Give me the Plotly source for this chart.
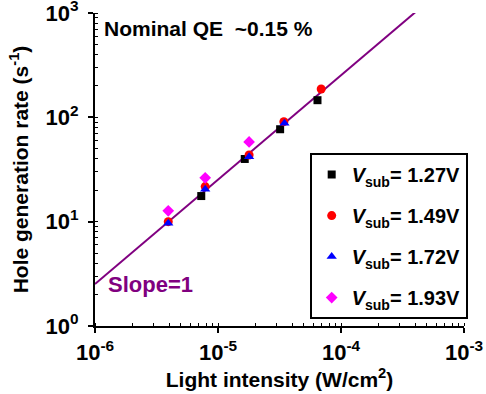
import plotly.graph_objects as go

# ---- data ----
intensity_127 = [7.31e-6, 1.65e-5, 3.20e-5, 6.44e-5]
rate_127 = [17.6, 39.9, 76.9, 146]
intensity_149 = [3.94e-6, 7.87e-6, 1.79e-5, 3.43e-5, 6.90e-5]
rate_149 = [10.0, 21.7, 43.6, 90.9, 187]
intensity_172 = [3.94e-6, 7.87e-6, 1.79e-5, 3.47e-5]
rate_172 = [9.66, 20.5, 42.0, 87.8]
intensity_193 = [3.94e-6, 7.87e-6, 1.79e-5]
rate_193 = [12.7, 26.3, 58.1]

series_names = ["1.27V", "1.49V", "1.72V", "1.93V"]

fit_coefficient = 2.53e6          # slope-1 line: rate = k * intensity
fit_x = [1e-6, 1e-3]

x_tickvals = [1e-6, 1e-5, 1e-4, 1e-3]
x_ticktext = ["10<sup>-6</sup>", "10<sup>-5</sup>", "10<sup>-4</sup>", "10<sup>-3</sup>"]
y_tickvals = [1, 10, 100, 1000]
y_ticktext = ["10<sup>0</sup>", "10<sup>1</sup>", "10<sup>2</sup>", "10<sup>3</sup>"]

FONT = "Arial, Liberation Sans, sans-serif"

fig = go.Figure()

fig.add_trace(go.Scatter(
    x=fit_x, y=[fit_coefficient * v for v in fit_x], mode="lines",
    line=dict(color="#800080", width=2), showlegend=False, hoverinfo="skip"))

styles = [
    (intensity_127, rate_127, "square", "black", 8),
    (intensity_149, rate_149, "circle", "#FF0000", 9),
    (intensity_172, rate_172, "triangle-up", "#0000FF", 9),
    (intensity_193, rate_193, "diamond", "#FF00FF", 9),
]
for i, ((xs, ys, sym, col, sz), nm) in enumerate(zip(styles, series_names)):
    fig.add_trace(go.Scatter(
        x=xs, y=ys, mode="markers",
        marker=dict(symbol=sym, color=col, size=sz, line=dict(width=0)),
        name="<i>V</i><sub>sub</sub>= " + nm, legendgroup="g%d" % i))

axis_common = dict(
    type="log", showgrid=False, zeroline=False, showline=True, automargin=False,
    linecolor="black", linewidth=2, ticks="outside", ticklen=5,
    tickwidth=2, tickcolor="black", ticklabeloverflow="allow",
    tickfont=dict(family=FONT, size=22, color="black", weight="bold"),
    minor=dict(ticks="inside", ticklen=3, tickwidth=1, tickcolor="black", dtick="D1", showgrid=False),
)

fig.update_xaxes(
    **axis_common, range=[-6, -3], tickvals=x_tickvals, ticktext=x_ticktext,
    ticklabelstandoff=1,
    title=dict(text="Light intensity (W/cm<sup>2</sup>)", standoff=0,
               font=dict(family=FONT, size=21, color="black", weight="bold")))
fig.update_yaxes(
    **axis_common, range=[0, 3], tickvals=y_tickvals, ticktext=y_ticktext,
    ticklabelstandoff=5,
    title=dict(text="Hole generation rate (s<sup>-1</sup>)", standoff=11,
               font=dict(family=FONT, size=21, color="black", weight="bold")))

fig.add_annotation(
    text="<b>Nominal QE  ~0.15 %</b>", xref="paper", yref="paper",
    x=0.02, y=0.952, xanchor="left", yanchor="middle", showarrow=False,
    font=dict(family=FONT, size=21, color="black"))
fig.add_annotation(
    text="<b>Slope=1</b>", xref="paper", yref="paper",
    x=0.03, y=0.131, xanchor="left", yanchor="middle", showarrow=False,
    font=dict(family=FONT, size=22, color="#800080"))

fig.update_layout(
    width=486, height=394,
    margin=dict(l=95, r=22, t=13, b=68),
    paper_bgcolor="white", plot_bgcolor="white",
    showlegend=True,
    legend=dict(
        x=1.01, y=0.022, xanchor="right", yanchor="bottom",
        bordercolor="black", borderwidth=2, bgcolor="white",
        traceorder="grouped", tracegroupgap=12,
        font=dict(family=FONT, size=20, color="black", weight="bold"),
    ),
)

fig.write_html(
    "out.html",
    config={"displayModeBar": False},
    post_script="document.body.style.margin='0';document.body.style.overflow='hidden';",
)
